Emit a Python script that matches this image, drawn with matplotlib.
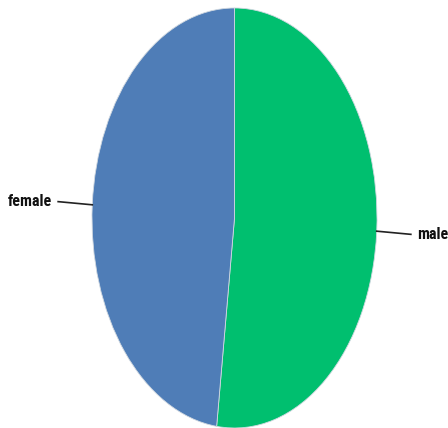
import numpy as np
import matplotlib.pyplot as plt

labels = ["male", "female"]
values = [52, 48]
colors = ["#00BF6F", "#4F7DB7"]

fig = plt.figure(figsize=(4.48, 4.28), dpi=100)
ax = fig.add_axes([0, 0, 1, 1])

wedges, _ = ax.pie(values, colors=colors, startangle=90, counterclock=False,
                   wedgeprops=dict(edgecolor="#d0d8e0", linewidth=0.6))
ax.set_aspect("auto")
ax.set_xlim(-1.6456, 1.4982)
ax.set_ylim(-1.0, 1.038)
ax.axis("off")

# leader lines and labels at wedge middles
for w, lab in zip(wedges, labels):
    ang = np.deg2rad((w.theta1 + w.theta2) / 2)
    x0, y0 = np.cos(ang), np.sin(ang)
    x1, y1 = 1.24 * x0, 1.24 * y0
    ax.plot([x0, x1], [y0, y1], color="#222222", lw=1.2, clip_on=False)
    side = 1 if x0 > 0 else -1
    ax.text(x1 + side * 0.045, y1, lab, ha="left" if side > 0 else "right",
            va="center", fontsize=11.5, fontweight="bold",
            family="Roboto Condensed", color="#111111")

fig.savefig("out.png", dpi=100)
